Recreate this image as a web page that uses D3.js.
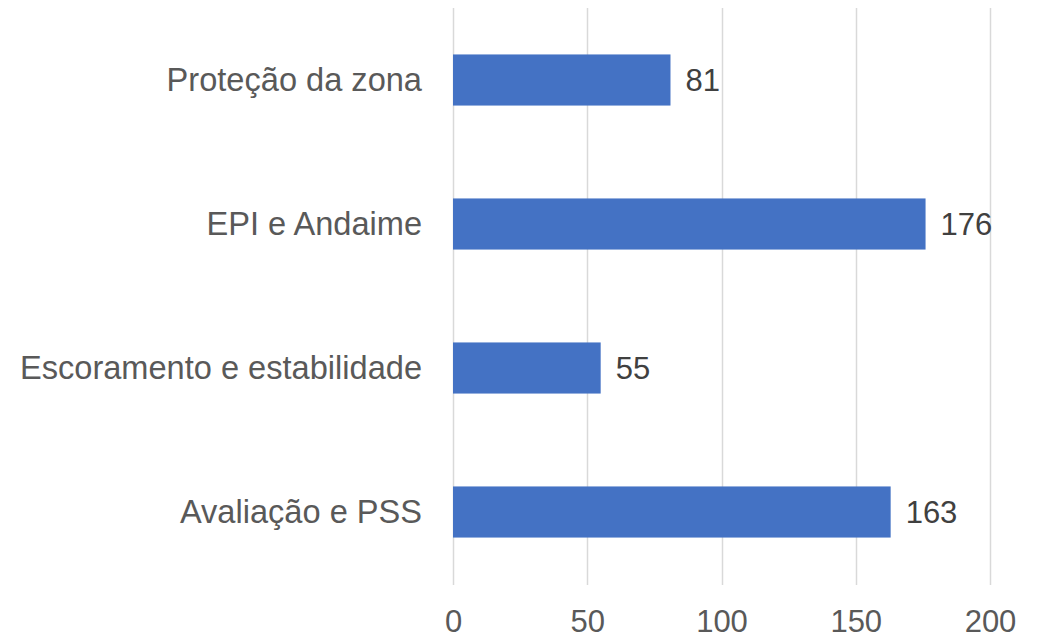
<!DOCTYPE html>
<html><head><meta charset="utf-8">
<script src="https://cdn.jsdelivr.net/npm/d3@7"></script>
<style>html,body{margin:0;padding:0;background:#fff;}</style>
</head><body>
<svg id="chart" width="1045" height="638"></svg>
<script>
const categories = ["Proteção da zona", "EPI e Andaime", "Escoramento e estabilidade", "Avaliação e PSS"];
const values = [81, 176, 55, 163];
const xTicks = [0, 50, 100, 150, 200];

const svg = d3.select("#chart");
const font = "'Liberation Sans', Arial, sans-serif";
const x = d3.scaleLinear().domain([0, 200]).range([453, 990]);
const y = d3.scaleBand().domain(categories).range([8, 584]).paddingInner(0.645).paddingOuter(0.3225);

// gridlines
svg.append("g").selectAll("line").data(xTicks).join("line")
  .attr("x1", d => Math.round(x(d)) + 0.5).attr("x2", d => Math.round(x(d)) + 0.5)
  .attr("y1", 8).attr("y2", 585)
  .attr("stroke", "#d9d9d9").attr("stroke-width", 1.5);

// x axis tick labels
const xAxis = d3.axisBottom(x).tickValues(xTicks).tickSize(0).tickPadding(0);
const gx = svg.append("g").attr("transform", "translate(0,632)").call(xAxis);
gx.select(".domain").remove();
gx.selectAll("text").attr("font-family", font).attr("font-size", 31)
  .attr("fill", "#595959").attr("dy", "0");

// y axis labels
const yAxis = d3.axisLeft(y).tickSize(0).tickPadding(0);
const gy = svg.append("g").attr("transform", "translate(422,0)").call(yAxis);
gy.select(".domain").remove();
gy.selectAll("text").attr("font-family", font).attr("font-size", 32.6)
  .attr("fill", "#595959").attr("dy", "0.35em");

// bars
svg.append("g").selectAll("rect").data(values).join("rect")
  .attr("x", x(0))
  .attr("y", (d, i) => y(categories[i]))
  .attr("width", d => x(d) - x(0))
  .attr("height", y.bandwidth())
  .attr("fill", "#4472C4");

// value labels
svg.append("g").selectAll("text").data(values).join("text")
  .attr("x", d => x(d) + 15)
  .attr("y", (d, i) => y(categories[i]) + y.bandwidth() / 2)
  .attr("dy", "0.35em")
  .attr("font-family", font).attr("font-size", 31)
  .attr("fill", "#404040")
  .text(d => d);
</script>
</body></html>
